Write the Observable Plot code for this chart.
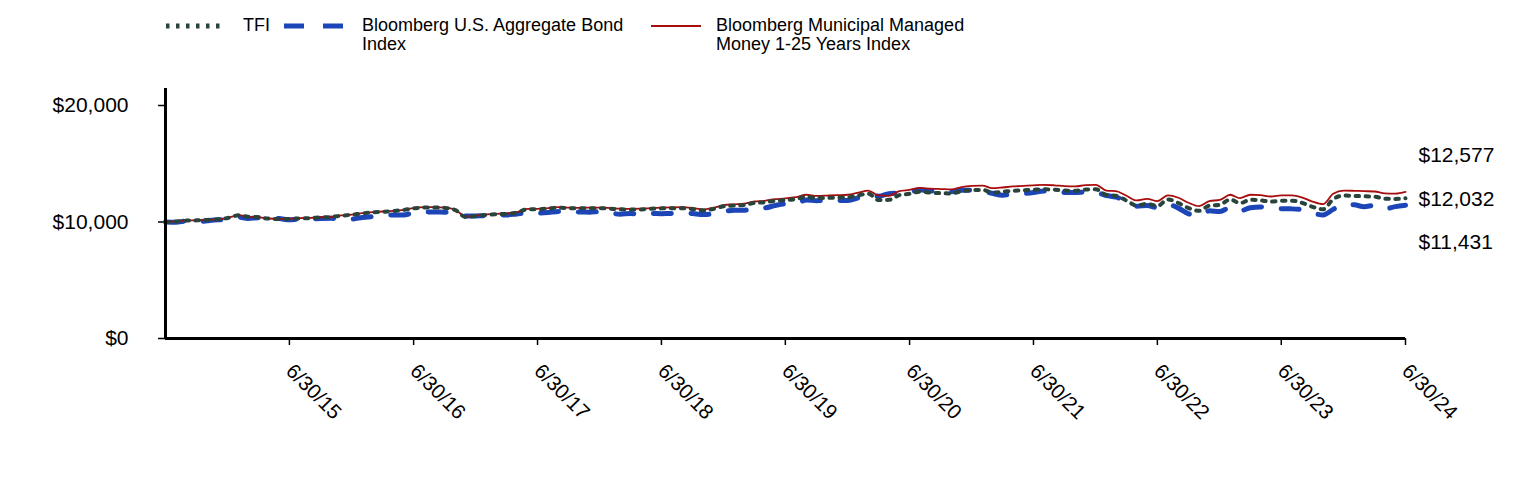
<!DOCTYPE html>
<html><head><meta charset="utf-8">
<script src="https://cdn.jsdelivr.net/npm/d3@7"></script>
<script src="https://cdn.jsdelivr.net/npm/@observablehq/plot@0.6"></script>
<style>
body{margin:0;background:#fff;font-family:"Liberation Sans",Arial,sans-serif;}
#legend{position:relative;height:60px;width:1524px;}
.sw{position:absolute;top:20px;}
.lt{position:absolute;top:16px;font-size:18px;line-height:19px;color:#000;white-space:nowrap;}
</style></head><body>
<div id="legend"></div>
<div id="chart"></div>
<script>
// ---- data (month-end values, 6/30/14 .. 6/30/24) ----
const seriesNames = ["TFI", "Bloomberg U.S. Aggregate Bond Index", "Bloomberg Municipal Managed Money 1-25 Years Index"];
const tickLabels = ["6/30/15","6/30/16","6/30/17","6/30/18","6/30/19","6/30/20","6/30/21","6/30/22","6/30/23","6/30/24"];
const yTicks = [0, 10000, 20000];

const tfi = [10000,10040,10120,10140,10180,10220,10350,10570,10460,10410,10290,10260,
10270,10310,10340,10390,10430,10540,10620,10740,10830,10880,10940,11030,
11170,11240,11240,11210,11020,10430,10520,10610,10660,10700,10800,11090,
11090,11160,11230,11190,11170,11180,11190,11140,11090,11070,11080,11140,
11170,11190,11190,11110,10990,11120,11350,11410,11460,11640,11690,11820,
11870,11970,12160,12060,12070,12090,12120,12280,12440,11880,11900,12310,
12420,12600,12520,12480,12450,12640,12740,12760,12530,12590,12680,12720,
12770,12810,12770,12700,12680,12780,12810,12320,12250,11840,11420,11560,
11370,11940,11630,11200,10960,11400,11480,11930,11620,11910,11860,11750,
11830,11830,11640,11300,11090,11960,12270,12240,12210,12180,12000,11980,
12032];

const agg = [10000,9975,10085,10017,10115,10187,10196,10407,10309,10357,10320,10295,
10186,10256,10241,10310,10312,10285,10252,10393,10467,10563,10604,10606,
10796,10865,10852,10846,10762,10508,10523,10544,10614,10609,10691,10774,
10763,10809,10906,10854,10860,10846,10896,10770,10668,10736,10656,10732,
10719,10722,10791,10721,10637,10700,10897,11013,11006,11217,11220,11419,
11562,11588,11888,11825,11860,11854,11847,12075,12292,12220,12437,12495,
12573,12761,12658,12651,12594,12718,12736,12644,12462,12306,12403,12443,
12531,12671,12647,12537,12534,12570,12541,12270,12133,11795,11347,11420,
11241,11516,11190,10707,10568,10957,10907,11243,10952,11230,11298,11175,
11135,11127,11056,10776,10605,11085,11509,11478,11315,11419,11131,11320,
11431];

const muni = [10000,10050,10130,10150,10190,10230,10360,10590,10470,10420,10300,10270,
10290,10330,10360,10410,10450,10560,10640,10760,10850,10900,10960,11050,
11200,11270,11270,11240,11050,10470,10560,10650,10700,10740,10840,11130,
11130,11200,11270,11230,11220,11230,11240,11200,11150,11130,11140,11200,
11240,11260,11270,11200,11080,11220,11450,11520,11580,11760,11820,11960,
12020,12130,12340,12250,12270,12300,12340,12520,12700,12280,12250,12650,
12760,12930,12860,12830,12800,13000,13100,13130,12900,12960,13050,13100,
13150,13190,13150,13080,13060,13160,13190,12700,12650,12250,11850,11990,
11790,12280,12080,11650,11360,11790,11900,12340,12050,12340,12300,12190,
12280,12280,12100,11750,11530,12420,12700,12680,12650,12620,12450,12430,
12577];

const colors = {tfi: "#29443a", agg: "#1c45b8", muni: "#a80d0d"};

// ---- build table ----
const dates = tfi.map((_, i) => new Date(Date.UTC(2014, 6 + i, 0)));
const rows = dates.map((date, i) => ({date, tfi: tfi[i], agg: agg[i], muni: muni[i]}));
const parseTick = d3.utcParse("%m/%d/%y");
const tickDates = tickLabels.map(parseTick);
const last = rows[rows.length - 1];
const money = v => "$" + d3.format(",")(v);

// ---- legend ----
const legend = document.getElementById("legend");
legend.innerHTML = `
<svg class="sw" style="left:164px" width="60" height="12"><line x1="2" y1="6" x2="58" y2="6" stroke="${colors.tfi}" stroke-width="5" stroke-dasharray="3.5,6.5"/></svg>
<div class="lt" style="left:243px">${seriesNames[0]}</div>
<svg class="sw" style="left:283px" width="62" height="12"><line x1="1" y1="6" x2="61" y2="6" stroke="${colors.agg}" stroke-width="5" stroke-dasharray="20,19"/></svg>
<div class="lt" style="left:362px">Bloomberg U.S. Aggregate Bond<br>Index</div>
<svg class="sw" style="left:650px" width="52" height="12"><line x1="1" y1="6" x2="51" y2="6" stroke="${colors.muni}" stroke-width="2"/></svg>
<div class="lt" style="left:716px">Bloomberg Municipal Managed<br>Money 1-25 Years Index</div>`;

// ---- chart ----
const curve = "monotone-x";
const chart = Plot.plot({
  width: 1524, height: 420,
  marginLeft: 165, marginRight: 119, marginTop: 28, marginBottom: 142,
  style: {fontFamily: "'Liberation Sans', Arial, sans-serif", fontSize: "20px", color: "#000", background: "#fff", overflow: "visible"},
  x: {type: "utc", domain: [dates[0], dates[dates.length - 1]]},
  y: {domain: [0, 21460]},
  marks: [
    Plot.axisY({ticks: yTicks, tickFormat: money, tickSize: 7, tickPadding: 30, fontSize: 21, label: null, strokeWidth: 1.5}),
    Plot.axisX({ticks: tickDates, tickFormat: (d, i) => tickLabels[i], tickSize: 7, tickPadding: 22, tickRotate: 45, fontSize: 20.5, label: null, strokeWidth: 1.5}),
    Plot.line(rows, {x: "date", y: "agg", stroke: colors.agg, strokeWidth: 5, strokeDasharray: "18,19.7", curve}),
    Plot.line(rows, {x: "date", y: "muni", stroke: colors.muni, strokeWidth: 1.8, curve}),
    Plot.line(rows, {x: "date", y: "tfi", stroke: colors.tfi, strokeWidth: 4, strokeDasharray: "3.5,6.5", curve}),
    Plot.ruleX([dates[0]], {stroke: "#000", strokeWidth: 3}),
    Plot.ruleY([0], {stroke: "#000", strokeWidth: 3}),
    Plot.text([last], {x: "date", y: "muni", text: d => money(d.muni), dx: 13, dy: -36.5, textAnchor: "start", fontSize: 21}),
    Plot.text([last], {x: "date", y: "tfi", text: d => money(d.tfi), dx: 13, dy: 1, textAnchor: "start", fontSize: 21}),
    Plot.text([last], {x: "date", y: "agg", text: d => money(d.agg), dx: 13, dy: 37, textAnchor: "start", fontSize: 21})
  ]
});
document.getElementById("chart").appendChild(chart);
</script>
</body></html>
